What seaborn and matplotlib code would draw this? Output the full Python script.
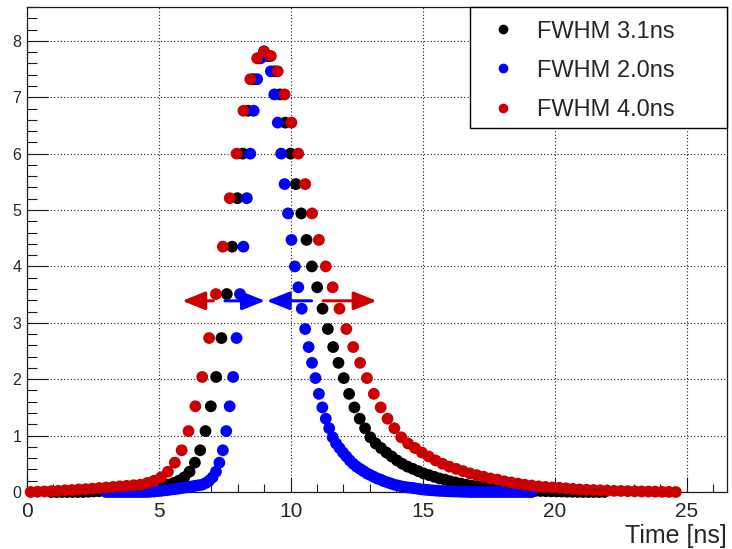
import numpy as np
import pandas as pd
import matplotlib
matplotlib.use("Agg")
import matplotlib.pyplot as plt
from matplotlib.ticker import MultipleLocator
from matplotlib.patches import Rectangle
import seaborn as sns

# ---- data ----
# common pulse amplitude samples, index k = -46 ... +78 relative to the peak sample
amplitude = [
    0, 0, 0, 0, 0, 0, 0, 0, 0, 0, 0, 0,                      # k=-46..-35
    0.0, 0.005, 0.01, 0.015, 0.02, 0.03, 0.035, 0.045, 0.05, 0.06,  # -34..-25
    0.07, 0.08, 0.09, 0.10, 0.11, 0.12, 0.13, 0.16, 0.20, 0.26,     # -24..-15
    0.36, 0.52, 0.74, 1.08, 1.52, 2.04, 2.73, 3.51, 4.35, 5.21,     # -14..-5
    6.0, 6.76, 7.32, 7.69,                                          # -4..-1
    7.81,                                                           # 0 (peak)
    7.73, 7.46, 7.05, 6.55, 6.0, 5.46, 4.94, 4.47, 4.0, 3.63,       # 1..10
    3.25, 2.89, 2.57, 2.29, 2.02, 1.74, 1.50, 1.30, 1.13, 0.97,     # 11..20
    0.86, 0.78, 0.70, 0.63, 0.56, 0.50, 0.45, 0.41, 0.37, 0.33,     # 21..30
    0.30, 0.27, 0.24, 0.22, 0.19, 0.17, 0.15, 0.13, 0.115, 0.10,    # 31..40
    0.09, 0.08, 0.075, 0.065, 0.055, 0.045, 0.04, 0.035, 0.03, 0.025,  # 41..50
    0.02, 0.018, 0.015, 0.012, 0.01, 0.008, 0.006, 0.004, 0.002, 0.0,  # 51..60
    0, 0, 0, 0, 0, 0, 0, 0, 0, 0, 0, 0, 0, 0, 0, 0, 0, 0,          # 61..78
]
K0 = 46  # list position of the peak sample

labels = ["FWHM 3.1ns", "FWHM 2.0ns", "FWHM 4.0ns"]
colors = ["#000000", "#0000ff", "#cc0000"]
peak_time = 8.99                 # ns
sample_step = [0.2015, 0.13, 0.26]   # ns per sample
k_first = [-40, -46, -34]
k_last = [64, 78, 60]

# FWHM arrows: (tail, tip) in ns, at height arrow_y
arrow_y = 3.39
arrow_tail = [7.07, 7.51, 10.79, 11.23]
arrow_tip = [5.89, 9.03, 9.09, 13.26]
arrow_col = ["#cc0000", "#0000ff", "#0000ff", "#cc0000"]

frames = []
for lab, dt, k1, k2 in zip(labels, sample_step, k_first, k_last):
    k = np.arange(k1, k2 + 1)
    y = np.array(amplitude[K0 + k1:K0 + k2 + 1])
    frames.append(pd.DataFrame({"time": peak_time + dt * k, "amp": y, "series": lab}))
df = pd.concat(frames, ignore_index=True)

# ---- style ----
sns.set_theme(style="white")
plt.rcParams["font.family"] = ["Liberation Sans", "DejaVu Sans"]

W, H = 732, 549
fig = plt.figure(figsize=(W / 100, H / 100), dpi=100)
ax = fig.add_axes([26.7 / W, 57 / H, (727 - 26.7) / W, 485 / H])

sns.scatterplot(data=df, x="time", y="amp", hue="series", hue_order=labels,
                palette=colors, s=72, linewidth=0, edgecolor="none",
                clip_on=False, ax=ax, legend=True, zorder=3)

ax.set_xlim(0, 26.53)
ax.set_ylim(0, 8.6)
ax.set_xticks([0, 5, 10, 15, 20, 25])
ax.set_yticks(range(0, 9))
ax.xaxis.set_minor_locator(MultipleLocator(1))
ax.yaxis.set_minor_locator(MultipleLocator(0.2))
ax.tick_params(axis="x", which="major", direction="in", length=10.8, width=0.8,
               labelsize=15, pad=7, color="k", bottom=True)
ax.tick_params(axis="x", which="minor", direction="in", length=5.8, width=0.8,
               color="k", bottom=True)
ax.tick_params(axis="y", which="major", direction="in", length=15, width=0.8,
               labelsize=11.5, pad=4, color="k", left=True)
ax.tick_params(axis="y", which="minor", direction="in", length=7.5, width=0.8,
               color="k", left=True)
ax.grid(True, which="major", linestyle=(0, (1, 2)), color="k", linewidth=0.8)
for sp in ax.spines.values():
    sp.set_color("k")
    sp.set_linewidth(0.9)

ax.set_ylabel("")
ax.set_xlabel("Time [ns]", fontsize=18, loc="right")
ax.xaxis.set_label_coords(1.0, -0.066)

for tail, tip, c in zip(arrow_tail, arrow_tip, arrow_col):
    ax.annotate("", xy=(tip, arrow_y), xytext=(tail, arrow_y),
                arrowprops=dict(arrowstyle="-|>,head_length=0.7,head_width=0.28",
                                color=c, lw=2.2, shrinkA=0, shrinkB=0,
                                mutation_scale=20), zorder=4)

# legend
handles, labs = ax.get_legend_handles_labels()
for h in handles:
    try:
        h.set_markersize(7)
    except Exception:
        pass
box = Rectangle((470 / W, 1 - 128 / H), (727 - 470) / W, (128 - 7) / H,
                transform=fig.transFigure, facecolor="white", edgecolor="black",
                linewidth=1.0, clip_on=False, zorder=10)
ax.add_patch(box)
leg = ax.legend(handles, labs, loc="upper left",
                bbox_to_anchor=(491 / W, 1 - 20.5 / H), bbox_transform=fig.transFigure,
                frameon=False, fontsize=17, borderpad=0, borderaxespad=0,
                handlelength=1.0, handletextpad=0.95, labelspacing=0.73)
leg.set_zorder(11)

fig.savefig("out.png", dpi=100)
